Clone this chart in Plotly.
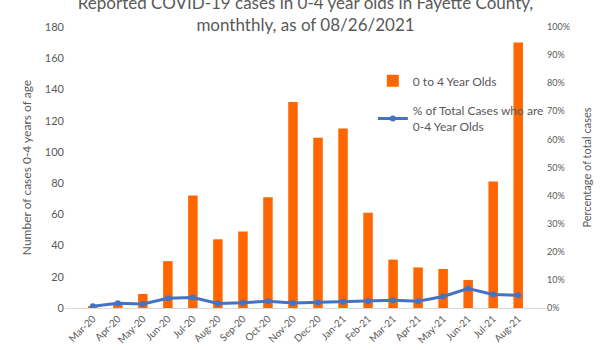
import plotly.graph_objects as go

months = ["Mar-20", "Apr-20", "May-20", "Jun-20", "Jul-20", "Aug-20", "Sep-20", "Oct-20",
          "Nov-20", "Dec-20", "Jan-21", "Feb-21", "Mar-21", "Apr-21", "May-21", "Jun-21",
          "Jul-21", "Aug-21"]
cases_0_4 = [1, 2, 9, 30, 72, 44, 49, 71, 132, 109, 115, 61, 31, 26, 25, 18, 81, 170]
pct_total = [0.006, 0.017, 0.014, 0.035, 0.037, 0.016, 0.019, 0.024, 0.018, 0.020, 0.022,
             0.024, 0.028, 0.024, 0.041, 0.069, 0.048, 0.045]

title_text = ("Reported COVID-19 cases in 0-4 year olds in Fayette County,<br>"
              "monththly, as of 08/26/2021")

FONT = "Lato"
GRAY = "#595959"

fig = go.Figure()
fig.add_trace(go.Bar(
    x=months, y=cases_0_4, name="0 to 4 Year Olds",
    marker=dict(color="#FF6600", line=dict(width=0)),
    yaxis="y", legendgroup="bars",
))
fig.add_trace(go.Scatter(
    x=months, y=pct_total, name="% of Total Cases who are<br>0-4 Year Olds",
    mode="lines+markers",
    line=dict(color="#4472C4", width=3),
    marker=dict(color="#4472C4", size=6),
    yaxis="y2", legendgroup="line",
))

fig.update_layout(
    width=600, height=350,
    margin=dict(l=65, r=54, t=27, b=42, autoexpand=False),
    paper_bgcolor="white", plot_bgcolor="white",
    font=dict(family=FONT, color=GRAY, size=11),
    title=dict(text=title_text, x=0.5, xanchor="center", xref="paper",
               y=0.975, yanchor="middle",
               font=dict(family=FONT, size=17, color=GRAY)),
    bargap=0.62,
    showlegend=True,
    legend=dict(x=0.64, y=0.86, xanchor="left", yanchor="top",
                bgcolor="rgba(0,0,0,0)", font=dict(size=12, color=GRAY),
                tracegroupgap=11, itemwidth=30),
    xaxis=dict(type="category", tickangle=-45, showgrid=False,
               showline=True, linecolor="#D9D9D9", linewidth=1,
               ticks="", tickfont=dict(size=10, color=GRAY)),
    yaxis=dict(range=[0, 180], dtick=20, showgrid=False, zeroline=False,
               showline=False, ticks="", tickfont=dict(size=11, color=GRAY),
               title=dict(text="Number of cases 0-4 years of age",
                          font=dict(size=12, color=GRAY), standoff=10)),
    yaxis2=dict(range=[0, 1], dtick=0.1, tickformat=".0%", overlaying="y", side="right",
                showgrid=False, zeroline=False, showline=False, ticks="",
                tickfont=dict(size=9, color=GRAY),
                title=dict(text="Percentage of total cases",
                           font=dict(size=11, color=GRAY), standoff=14)),
)

fig.write_html("out.html")
